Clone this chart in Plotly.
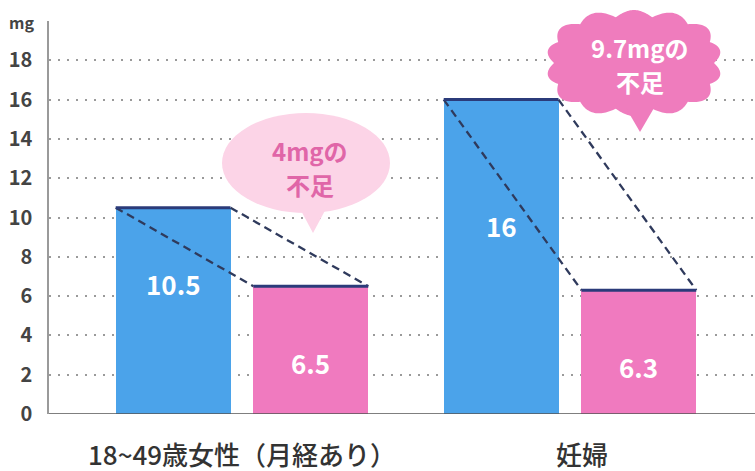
import math
import plotly.graph_objects as go

# ---- data ----
categories = ["18~49歳女性（月経あり）", "妊婦"]
recommended = [10.5, 16]      # blue bars
intake = [6.5, 6.3]           # pink bars
shortfall_line1 = ["4mgの", "9.7mgの"]
shortfall_line2 = ["不足", "不足"]
y_tick_vals = [0, 2, 4, 6, 8, 10, 12, 14, 16, 18]
y_unit = "mg"

# ---- layout constants (pixels) ----
FW, FH = 755, 471
L, R, T, B = 49, 755, 21, 414
W, H = R - L, B - T

def px(x):
    return (x - L) / W

def py(y):
    return (B - y) / H

group_x = [0, 1]
offset = 0.21
bar_w = 0.35
blue_x = [g - offset for g in group_x]
pink_x = [g + offset for g in group_x]

BLUE = "#4ba3ea"
PINK = "#f07abf"
NAVY = "#2b3b7a"
DASH = "#2f3a5c"
FONT = "Noto Sans CJK JP"

fig = go.Figure()
fig.add_trace(go.Bar(x=blue_x, y=recommended, width=bar_w, marker=dict(color=BLUE, line=dict(width=0)),
                     hoverinfo="skip", showlegend=False))
fig.add_trace(go.Bar(x=pink_x, y=intake, width=bar_w, marker=dict(color=PINK, line=dict(width=0)),
                     hoverinfo="skip", showlegend=False))

# dashed connector lines and top edges
for i in range(len(group_x)):
    bx, pxx = blue_x[i], pink_x[i]
    bv, pv = recommended[i], intake[i]
    for dx in (-bar_w / 2, bar_w / 2):
        fig.add_trace(go.Scatter(x=[bx + dx, pxx + dx], y=[bv, pv], mode="lines",
                                 line=dict(color=DASH, width=2.3, dash="8px,5px"),
                                 hoverinfo="skip", showlegend=False))
    fig.add_trace(go.Scatter(x=[bx - bar_w / 2, bx + bar_w / 2], y=[bv, bv], mode="lines",
                             line=dict(color=NAVY, width=3), hoverinfo="skip", showlegend=False))
    fig.add_trace(go.Scatter(x=[pxx - bar_w / 2, pxx + bar_w / 2], y=[pv, pv], mode="lines",
                             line=dict(color=NAVY, width=3), hoverinfo="skip", showlegend=False))

annotations = []
blue_label_y = [6.65, 9.6]
pink_label_y = [2.6, 2.4]
for i in range(len(group_x)):
    annotations.append(dict(x=blue_x[i], y=blue_label_y[i], text=f"{recommended[i]:g}", showarrow=False,
                            yanchor="middle",
                            font=dict(family=FONT, size=26, color="white", weight="bold")))
    annotations.append(dict(x=pink_x[i], y=pink_label_y[i], text=f"{intake[i]:g}", showarrow=False,
                            yanchor="middle",
                            font=dict(family=FONT, size=26, color="white", weight="bold")))

# x category labels
label_shift = [0, 0.036]
for i, c in enumerate(categories):
    annotations.append(dict(x=group_x[i] + label_shift[i], y=py(453), yref="paper", text=c, showarrow=False,
                            xanchor="center", yanchor="middle",
                            font=dict(family=FONT, size=26, color="#333333", weight=500)))

# unit label
annotations.append(dict(x=px(36), y=py(22), xref="paper", yref="paper", text=y_unit, showarrow=False,
                        xanchor="right", yanchor="middle",
                        font=dict(family=FONT, size=16, color="#444444", weight="bold")))

shapes = []
# callout 1: light pink ellipse with tail
cx1, cy1, rx1, ry1 = 306, 163, 84, 50
shapes.append(dict(type="circle", xref="paper", yref="paper",
                   x0=px(cx1 - rx1), x1=px(cx1 + rx1), y0=py(cy1 + ry1), y1=py(cy1 - ry1),
                   fillcolor="#fcd4e7", line=dict(width=0), layer="above"))
tail1 = [(298, 205), (328, 205), (313, 233)]
shapes.append(dict(type="path", xref="paper", yref="paper",
                   path="M " + " L ".join(f"{px(a):.5f},{py(b):.5f}" for a, b in tail1) + " Z",
                   fillcolor="#fcd4e7", line=dict(width=0), layer="above"))
annotations.append(dict(x=px(310), y=py(150), xref="paper", yref="paper", text=shortfall_line1[0],
                        showarrow=False, xanchor="center", yanchor="middle",
                        font=dict(family=FONT, size=24, color="#e066a8", weight="bold")))
annotations.append(dict(x=px(310), y=py(184), xref="paper", yref="paper", text=shortfall_line2[0],
                        showarrow=False, xanchor="center", yanchor="middle",
                        font=dict(family=FONT, size=24, color="#e066a8", weight="bold")))

# callout 2: scalloped cloud with tail
cx2, cy2, rx2, ry2 = 634, 63, 80, 46
pts = []
nb = 14
N = 420
for k in range(N):
    th = 2 * math.pi * k / N
    c, s = math.cos(th), math.sin(th)
    e = 2.6
    base = 1.0 / ((abs(c) ** e + abs(s) ** e) ** (1 / e))
    bump = abs(math.sin(nb * th / 2))
    xx = cx2 + (rx2 * base + 7 * bump) * c
    yy = cy2 + (ry2 * base + 7 * bump) * s
    pts.append((xx, yy))
shapes.append(dict(type="path", xref="paper", yref="paper",
                   path="M " + " L ".join(f"{px(a):.5f},{py(b):.5f}" for a, b in pts) + " Z",
                   fillcolor="#ef7cbd", line=dict(width=0), layer="above"))
tail2 = [(626, 108), (654, 108), (640, 132)]
shapes.append(dict(type="path", xref="paper", yref="paper",
                   path="M " + " L ".join(f"{px(a):.5f},{py(b):.5f}" for a, b in tail2) + " Z",
                   fillcolor="#ef7cbd", line=dict(width=0), layer="above"))
annotations.append(dict(x=px(640), y=py(47), xref="paper", yref="paper", text=shortfall_line1[1],
                        showarrow=False, xanchor="center", yanchor="middle",
                        font=dict(family=FONT, size=24, color="white", weight="bold")))
annotations.append(dict(x=px(640), y=py(81), xref="paper", yref="paper", text=shortfall_line2[1],
                        showarrow=False, xanchor="center", yanchor="middle",
                        font=dict(family=FONT, size=24, color="white", weight="bold")))

fig.update_layout(
    width=FW, height=FH,
    margin=dict(l=L, r=FW - R, t=T, b=FH - B, pad=0),
    paper_bgcolor="white", plot_bgcolor="white",
    showlegend=False,
    shapes=shapes,
    annotations=annotations,
    bargap=0,
    font=dict(family=FONT),
    xaxis=dict(range=[(L - 242) / 328, (R - 242) / 328], showgrid=False, zeroline=False,
               showticklabels=False, ticks="", showline=False, fixedrange=True),
    yaxis=dict(range=[0, 20], tickvals=y_tick_vals + [20], ticktext=[str(v) for v in y_tick_vals] + [" "],
               showgrid=True, gridcolor="#9a9a9a", gridwidth=1.6, griddash="2px,7px",
               zeroline=False, showline=True, linecolor="#9a9a9a", linewidth=1.5,
               ticks="", ticklabelstandoff=11,
               tickfont=dict(family=FONT, size=20, color="#444444", weight="bold"), fixedrange=True),
)
# baseline
fig.add_shape(type="line", xref="paper", yref="y", x0=0, x1=1, y0=0, y1=0,
              line=dict(color="#555555", width=1.5), layer="above")

fig.write_html("out.html")
